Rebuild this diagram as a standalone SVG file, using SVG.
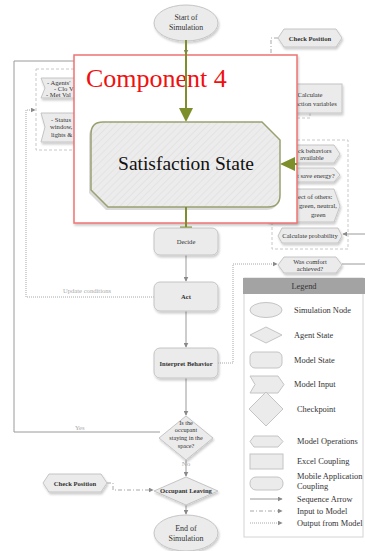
<svg xmlns="http://www.w3.org/2000/svg" width="365" height="551" viewBox="0 0 365 551" font-family="'Liberation Serif', 'Times New Roman', 'DejaVu Serif', serif">
<style>
  text { font-family: "Liberation Serif", "Times New Roman", "DejaVu Serif", serif; }
  .node { fill: #ebebeb; stroke: #c4c4c4; stroke-width: 1; }
  .lbl { fill: #333; text-anchor: middle; }
  .sm { font-size: 6.6px; }
  .tx { fill: #333; }
  .lg { font-size: 8.4px; fill: #333; }
  .note { font-size: 6.6px; fill: #aaa; }
  .seq { fill: none; stroke: #9a9a9a; stroke-width: 1; }
  .inp { fill: none; stroke: #a8a8a8; stroke-width: 1; stroke-dasharray: 4 2 1 2; }
  .out { fill: none; stroke: #a8a8a8; stroke-width: 1; stroke-dasharray: 1 1; }
  .grp { fill: none; stroke: #c8c8c8; stroke-width: 1; stroke-dasharray: 3 2; }
  .olive { fill: none; stroke: #7d8f2b; stroke-width: 2; }
</style>
<defs>
  <marker id="ah" viewBox="0 0 8 8" refX="7" refY="4" markerWidth="5" markerHeight="5" orient="auto">
    <path d="M0,0 L8,4 L0,8 z" fill="#8a8a8a"/>
  </marker>
  <pattern id="hatch" width="5" height="5" patternUnits="userSpaceOnUse" patternTransform="rotate(45)">
    <rect width="5" height="5" fill="#ececec"/>
    <line x1="0" y1="0" x2="0" y2="5" stroke="#dedede" stroke-width="1.2"/>
  </pattern>
  <filter id="sh" x="-20%" y="-20%" width="140%" height="150%">
    <feDropShadow dx="1" dy="2" stdDeviation="0.8" flood-color="#000" flood-opacity="0.2"/>
  </filter>
</defs>

<rect width="365" height="551" fill="#fff"/>

<!-- connectors -->
<g id="connectors">
  <line class="seq" x1="186" y1="41" x2="186" y2="54" marker-end="url(#ah)"/>
  <line class="seq" x1="186" y1="255" x2="186" y2="281" marker-end="url(#ah)"/>
  <line class="seq" x1="186" y1="311" x2="186" y2="347" marker-end="url(#ah)"/>
  <line class="seq" x1="186" y1="378" x2="186" y2="415" marker-end="url(#ah)"/>
  <line class="seq" x1="186" y1="460" x2="186" y2="476" marker-end="url(#ah)"/>
  <line class="seq" x1="186" y1="505" x2="186" y2="514" marker-end="url(#ah)"/>
  <!-- "Yes" loop back to the top -->
  <path class="seq" d="M160,432 H14 V61 H80"/>
  <!-- update conditions loop -->
  <path class="out" d="M154,297 H26 V110 H35" marker-end="url(#ah)"/>
  <!-- interpret behavior to comfort check -->
  <path class="out" d="M218,363 H233 V264 H277" marker-end="url(#ah)"/>
  <line class="seq" x1="342" y1="264" x2="365" y2="264"/>
  <line class="seq" x1="365" y1="234" x2="343" y2="234" marker-end="url(#ah)"/>
  <!-- position inputs -->
  <path class="inp" d="M107,483 H113 V490 H153" marker-end="url(#ah)"/>
  <path class="inp" d="M278,38 H271 V56"/>
  <path class="grp" d="M310,113 V118 H297"/>
  <text x="63" y="293" class="note">Update conditions</text>
  <text x="75" y="430" class="note">Yes</text>
  <text x="186" y="466" text-anchor="middle" class="note" style="font-size:7px">No</text>
</g>

<!-- start -->
<g id="start">
  <ellipse class="node" cx="186" cy="23" rx="32" ry="18" filter="url(#sh)"/>
  <text class="lbl" x="186" y="20" style="font-size:7.8px">Start of</text>
  <text class="lbl" x="186" y="30" style="font-size:7.8px">Simulation</text>
</g>

<g id="check-position-top">
  <polygon class="node" points="278,38 284,29 336,29 342,38 336,47 284,47" filter="url(#sh)"/>
  <text class="lbl sm" x="310" y="40.5" font-weight="bold">Check Position</text>
</g>

<g id="calc-satisfaction-vars">
  <rect class="node" x="276" y="84" width="66" height="29" filter="url(#sh)"/>
  <text class="lbl sm" x="310" y="97">Calculate</text>
  <text class="lbl sm" x="309" y="106">satisfaction variables</text>
</g>

<!-- left inputs group -->
<g id="agent-inputs">
  <rect class="grp" x="36" y="69" width="60" height="81"/>
  <polygon class="node" points="41,78 100,78 100,98 41,98 45,88" filter="url(#sh)"/>
  <text class="sm tx" x="47" y="85">- Agents'</text>
  <text class="sm tx" x="54" y="91">- Clo V</text>
  <text class="sm tx" x="46" y="97">- Met Val</text>
  <polygon class="node" points="41,113 100,113 100,142 41,142 45,127" filter="url(#sh)"/>
  <text class="sm tx" x="51" y="122">- Status</text>
  <text class="sm tx" x="50" y="129">window,</text>
  <text class="sm tx" x="51" y="136.5">lights &amp;</text>
</g>

<!-- right operations group -->
<g id="behavior-ops">
  <rect class="grp" x="272" y="140" width="76" height="109"/>
  <polygon class="node" points="262,154 268,145 334,145 340,154 334,163 268,163" filter="url(#sh)"/>
  <text class="sm tx" x="298" y="152.5">ck behaviors</text>
  <text class="sm tx" x="300" y="160">available</text>
  <polygon class="node" points="262,175 268,168 334,168 340,175 334,182 268,182" filter="url(#sh)"/>
  <text class="sm tx" x="297" y="177.5">t save energy?</text>
  <polygon class="node" points="262,206 268,189 334,189 340,206 334,222 268,222" filter="url(#sh)"/>
  <text class="sm tx" x="298" y="199">ect of others:</text>
  <text class="sm tx" x="299" y="208">green, neutral,</text>
  <text class="sm tx" x="311" y="217">green</text>
  <polygon class="node" points="278,236 282,228 338,228 342,236 338,243 282,243" filter="url(#sh)"/>
  <text class="lbl sm" x="310" y="238">Calculate probability</text>
</g>

<g id="comfort-check">
  <polygon class="node" points="278,265 284,257 336,257 342,265 336,273 284,273" filter="url(#sh)"/>
  <text class="lbl sm" x="310" y="263.5">Was comfort</text>
  <text class="lbl sm" x="310" y="271">achieved?</text>
</g>

<!-- highlighted component -->
<g id="component-4">
  <rect x="74" y="55" width="223" height="168" fill="#fff" stroke="#f07373" stroke-width="1.5" filter="url(#sh)"/>
  <text x="86" y="87" style="font-size:26px;fill:#f01010">Component 4</text>
  <line class="olive" x1="186" y1="40" x2="186" y2="110"/>
  <polygon points="179,108 193,108 186,122" fill="#7d8f2b"/>
  <line class="olive" x1="293" y1="164" x2="297" y2="164"/>
  <polygon points="295,157 295,171 280,164" fill="#7d8f2b"/>
</g>

<g id="satisfaction-state">
  <path d="M103,122 H262 L280,140 V195 Q280,207 268,207 H108 L91,190 V134 Q91,122 103,122 Z" fill="#bbb" transform="translate(-2,3)" opacity="0.55"/>
  <path d="M103,122 H262 L280,140 V195 Q280,207 268,207 H108 L91,190 V134 Q91,122 103,122 Z" fill="url(#hatch)" stroke="#9aa070" stroke-width="1.5"/>
  <text x="186" y="170" text-anchor="middle" style="font-size:19.5px;fill:#111">Satisfaction State</text>
  <line class="olive" x1="186" y1="207" x2="186" y2="228"/>
  <rect x="180" y="226.5" width="12" height="2.5" fill="#7d8f2b"/>
</g>

<g id="decide">
  <rect class="node" x="154" y="228" width="64" height="27" rx="6" filter="url(#sh)"/>
  <text class="lbl sm" x="186" y="244">Decide</text>
</g>

<g id="act">
  <rect class="node" x="154" y="282" width="64" height="29" rx="6" filter="url(#sh)"/>
  <text class="lbl sm" x="186" y="299" font-weight="bold">Act</text>
</g>

<g id="interpret-behavior">
  <rect class="node" x="154" y="348" width="64" height="30" rx="6" filter="url(#sh)"/>
  <text class="lbl sm" x="186" y="365.5" font-weight="bold">Interpret Behavior</text>
</g>

<g id="staying-check">
  <polygon class="node" points="186,416 213,438 186,460 159,438" filter="url(#sh)"/>
  <text class="lbl" x="186" y="425" style="font-size:6.2px">Is the</text>
  <text class="lbl" x="186" y="432" style="font-size:6.2px">occupant</text>
  <text class="lbl" x="186" y="440" style="font-size:6.2px">staying in the</text>
  <text class="lbl" x="186" y="447.5" style="font-size:6.2px">space?</text>
</g>

<g id="check-position-bottom">
  <polygon class="node" points="43,483 49,474 101,474 107,483 101,492 49,492" filter="url(#sh)"/>
  <text class="lbl sm" x="75" y="485.5" font-weight="bold">Check Position</text>
</g>

<g id="occupant-leaving">
  <polygon class="node" points="186,477 218,491 186,505 154,491" filter="url(#sh)"/>
  <text class="lbl sm" x="186" y="493" font-weight="bold">Occupant Leaving</text>
</g>

<g id="end">
  <ellipse class="node" cx="186" cy="533" rx="32" ry="18" filter="url(#sh)"/>
  <text class="lbl" x="186" y="531" style="font-size:8px">End of</text>
  <text class="lbl" x="186" y="541" style="font-size:8px">Simulation</text>
</g>

<!-- legend -->
<g id="legend">
  <rect x="244" y="278" width="119" height="259" fill="#fff" stroke="#d4d4d4"/>
  <rect x="243" y="278" width="122" height="16" fill="#a3a3a3"/>
  <text x="304" y="289" text-anchor="middle" class="lg">Legend</text>
  <ellipse class="node" cx="266" cy="310" rx="16" ry="7.5"/>
  <text x="294" y="313" class="lg">Simulation Node</text>
  <polygon class="node" points="250,335 266,327 282,335 266,343"/>
  <text x="294" y="338" class="lg">Agent State</text>
  <rect class="node" x="250" y="352" width="32" height="16" rx="5"/>
  <text x="294" y="363" class="lg">Model State</text>
  <polygon class="node" points="250,376 278,376 284,384.5 278,393 250,393 255,384.5"/>
  <text x="294" y="387" class="lg">Model Input</text>
  <polygon class="node" points="266,392 283,409 266,426 249,409"/>
  <text x="297" y="412" class="lg">Checkpoint</text>
  <polygon class="node" points="250,441.5 254,436 278,436 283,441.5 278,447 254,447"/>
  <text x="297" y="444" class="lg">Model Operations</text>
  <rect class="node" x="250" y="454" width="33" height="15"/>
  <text x="297" y="464" class="lg">Excel Coupling</text>
  <rect class="node" x="250" y="477" width="33" height="13" rx="6"/>
  <text x="297" y="479" class="lg">Mobile Application</text>
  <text x="297" y="489" class="lg">Coupling</text>
  <line class="seq" x1="250" y1="499" x2="282" y2="499" marker-end="url(#ah)"/>
  <text x="297" y="502" class="lg">Sequence Arrow</text>
  <line class="inp" x1="250" y1="511" x2="282" y2="511" marker-end="url(#ah)"/>
  <text x="297" y="514" class="lg">Input to Model</text>
  <line class="out" x1="250" y1="523" x2="282" y2="523" marker-end="url(#ah)"/>
  <text x="297" y="526" class="lg">Output from Model</text>
</g>
</svg>
